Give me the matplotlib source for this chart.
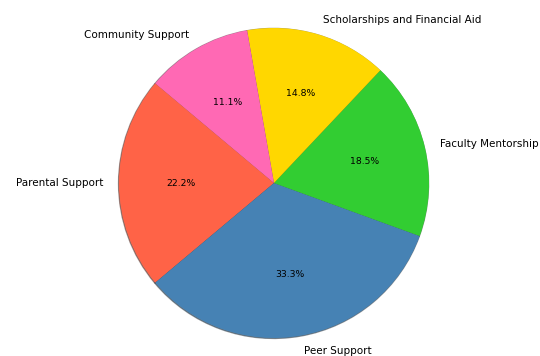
import matplotlib
matplotlib.use('Agg')
import matplotlib.pyplot as plt

# support sources and their share
sources = ['Parental Support', 'Peer Support', 'Faculty Mentorship',
           'Scholarships and Financial Aid', 'Community Support']
counts = [30, 45, 25, 20, 15]
colors = ['#FF6347', '#4682B4', '#32CD32', '#FFD700', '#FF69B4']


def main():
	fig = plt.figure(figsize=(5.4, 3.56), dpi=100)
	ax = fig.add_axes([0, 0, 1, 1])

	ax.pie(counts, labels=sources, colors=colors, autopct='%1.1f%%',
	       startangle=140, shadow={'ox': -0.002, 'oy': -0.002},
	       textprops={'fontsize': 7.5})

	for t in ax.texts:
		if t.get_text().endswith('%'):
			t.set_fontsize(6.7)

	# 155 px per data unit in both directions
	r = 155.0
	cx, cy = 274.0, 183.0
	ax.set_aspect('auto')
	ax.set_xlim(-cx / r, (540 - cx) / r)
	ax.set_ylim(-(356 - cy) / r, cy / r)
	ax.axis('off')

	fig.savefig('out.png', dpi=100)
	plt.close()


if __name__ == '__main__':
	main()
